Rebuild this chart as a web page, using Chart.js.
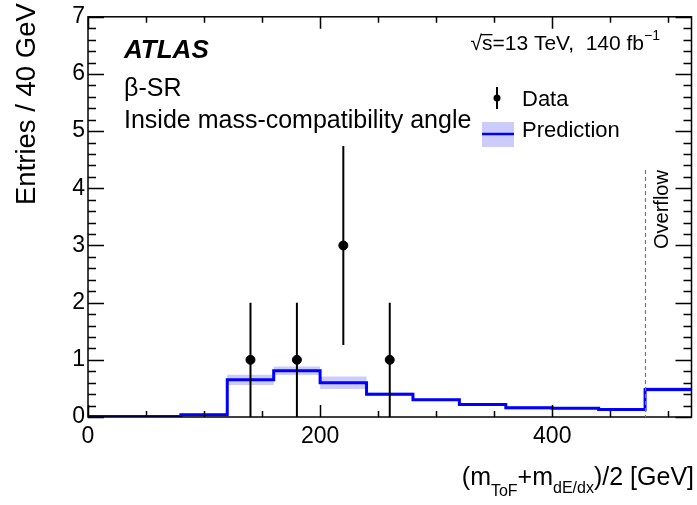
<!DOCTYPE html>
<html>
<head>
<meta charset="utf-8">
<script src="https://cdn.jsdelivr.net/npm/chart.js@4.4.1/dist/chart.umd.min.js"></script>
<style>
  html, body { margin: 0; padding: 0; background: #ffffff; }
  #plot { display: block; }
</style>
</head>
<body>
<canvas id="plot" width="697" height="505"></canvas>
<script>
// histogram binning (40 GeV bins, last bin is overflow)
var binEdges = [0, 40, 80, 120, 160, 200, 240, 280, 320, 360, 400, 440, 480, 520];
var predValues = [0.01, 0.01, 0.04, 0.65, 0.81, 0.60, 0.40, 0.30, 0.22, 0.16, 0.155, 0.13, 0.48];
var predErr = [0.01, 0.01, 0.015, 0.09, 0.075, 0.11, 0.03, 0.02, 0.025, 0.03, 0.02, 0.012, 0.04];

// observed data
var dataX = [140, 180, 220, 260];
var dataY = [1, 1, 3, 1];
var dataErrLo = [1, 1, 1.74, 1];
var dataErrHi = [1, 1, 1.74, 1];

var xTicks = [0, 200, 400];
var yTicks = [0, 1, 2, 3, 4, 5, 6, 7];
var overflowEdge = 480;

var FONT = '"Liberation Sans", Arial, Helvetica, sans-serif';
var bandColor = 'rgb(204, 204, 250)';

function stepPoints(vals) {
    var pts = [];
    for (var i = 0; i < binEdges.length; i++) {
        var v = i < vals.length ? vals[i] : vals[vals.length - 1];
        pts.push({ x: binEdges[i], y: v });
    }
    return pts;
}

var upper = stepPoints(predValues.map(function (v, i) { return v + predErr[i]; }));
var lower = stepPoints(predValues.map(function (v, i) { return Math.max(0, v - predErr[i]); }));
var nominal = stepPoints(predValues);

var errBars = [];
dataX.forEach(function (x, i) {
    errBars.push({ x: x, y: dataY[i] - dataErrLo[i] });
    errBars.push({ x: x, y: dataY[i] + dataErrHi[i] });
    errBars.push({ x: x, y: null });
});
var dataPts = dataX.map(function (x, i) { return { x: x, y: dataY[i] }; });

// ROOT style frame, inward ticks, labels and legend
var atlasDecor = {
    id: 'atlasDecor',
    afterDatasetsDraw: function (chart) {
        var ctx = chart.ctx, a = chart.chartArea;
        var xs = chart.scales.x, ys = chart.scales.y;
        ctx.save();
        ctx.strokeStyle = '#000';
        ctx.lineWidth = 1.5;
        ctx.beginPath();
        // y ticks, left and right
        for (var k = 0; k <= 35; k++) {
            var v = k * 0.2;
            var py = Math.round(ys.getPixelForValue(v)) + 0.5;
            var len = (k % 5 === 0) ? 16 : 8;
            ctx.moveTo(a.left, py); ctx.lineTo(a.left + len, py);
            ctx.moveTo(a.right, py); ctx.lineTo(a.right - len, py);
        }
        // x ticks, bottom and top
        for (var x = 0; x <= 520; x += 50) {
            var px = Math.round(xs.getPixelForValue(x)) + 0.5;
            var l2 = (x % 200 === 0) ? 12 : 6;
            ctx.moveTo(px, a.bottom); ctx.lineTo(px, a.bottom - l2);
            ctx.moveTo(px, a.top); ctx.lineTo(px, a.top + l2);
        }
        ctx.stroke();
        ctx.strokeRect(a.left, a.top, a.right - a.left, a.bottom - a.top);

        // overflow marker
        var ox = Math.round(xs.getPixelForValue(overflowEdge)) + 0.5;
        ctx.strokeStyle = '#777';
        ctx.lineWidth = 1.2;
        ctx.setLineDash([4, 3]);
        ctx.beginPath();
        ctx.moveTo(ox, 170); ctx.lineTo(ox, a.bottom);
        ctx.stroke();
        ctx.setLineDash([]);
        ctx.restore();
    },
    afterDraw: function (chart) {
        var ctx = chart.ctx;
        ctx.save();
        ctx.fillStyle = '#000';
        ctx.textBaseline = 'alphabetic';
        ctx.textAlign = 'left';

        ctx.font = 'italic bold 26px ' + FONT;
        ctx.fillText('ATLAS', 124, 58);
        ctx.font = '25px ' + FONT;
        ctx.fillText('\u03b2-SR', 124, 96);
        ctx.fillText('Inside mass-compatibility angle', 124, 128);

        // sqrt(s) and luminosity, right aligned
        var main = '\u221As=13 TeV,  140 fb';
        ctx.font = '21px ' + FONT;
        var wMain = ctx.measureText(main).width;
        ctx.font = '14px ' + FONT;
        var wSup = ctx.measureText('\u22121').width;
        var x0 = 660 - wMain - wSup;
        ctx.font = '21px ' + FONT;
        ctx.fillText(main, x0, 50);
        var wRoot = ctx.measureText('\u221A').width;
        var wS = ctx.measureText('s').width;
        ctx.fillRect(x0 + wRoot - 1, 34, wS + 1, 1.3);
        ctx.font = '14px ' + FONT;
        ctx.fillText('\u22121', x0 + wMain, 40);

        // legend
        ctx.strokeStyle = '#000';
        ctx.lineWidth = 2;
        ctx.beginPath();
        ctx.moveTo(497, 87); ctx.lineTo(497, 109);
        ctx.stroke();
        ctx.beginPath();
        ctx.arc(497, 98, 3.5, 0, Math.PI * 2);
        ctx.fill();
        ctx.fillStyle = bandColor;
        ctx.fillRect(482, 122, 32, 25);
        ctx.strokeStyle = '#0000ff';
        ctx.lineWidth = 2.5;
        ctx.beginPath();
        ctx.moveTo(482, 134); ctx.lineTo(514, 134);
        ctx.stroke();
        ctx.fillStyle = '#000';
        ctx.font = '22px ' + FONT;
        ctx.fillText('Data', 522, 106);
        ctx.fillText('Prediction', 522, 137);

        // overflow label
        ctx.save();
        ctx.translate(668, 249);
        ctx.rotate(-Math.PI / 2);
        ctx.font = '20px ' + FONT;
        ctx.fillText('Overflow', 0, 0);
        ctx.restore();

        // y title
        ctx.save();
        ctx.translate(35, 205);
        ctx.rotate(-Math.PI / 2);
        ctx.font = '27.5px ' + FONT;
        ctx.fillText('Entries / 40 GeV', 0, 0);
        ctx.restore();

        // x title with subscripts, right aligned to the frame
        var parts = [
            ['(m', 25, 0], ['ToF', 16, 11], ['+m', 25, 0], ['dE/dx', 16, 8], [')/2 [GeV]', 25, 0]
        ];
        var total = 0;
        parts.forEach(function (p) { ctx.font = p[1] + 'px ' + FONT; total += ctx.measureText(p[0]).width; });
        var cx = 694 - total;
        parts.forEach(function (p) {
            ctx.font = p[1] + 'px ' + FONT;
            ctx.fillText(p[0], cx, 485 + p[2]);
            cx += ctx.measureText(p[0]).width;
        });
        ctx.restore();
    }
};

var ctx = document.getElementById('plot').getContext('2d');
var chart = new Chart(ctx, {
    type: 'line',
    data: {
        datasets: [
            { label: 'Data', type: 'scatter', data: dataPts, order: 1,
              pointRadius: 4.5, pointBackgroundColor: '#000', pointBorderColor: '#000', showLine: false },
            { label: 'Data err', data: errBars, order: 2, borderColor: '#000', borderWidth: 2,
              pointRadius: 0, spanGaps: false, fill: false },
            { label: 'Prediction', data: nominal, order: 3, stepped: 'before', borderColor: '#0000ff',
              borderWidth: 3, pointRadius: 0, fill: false },
            { label: 'band up', data: upper, order: 4, stepped: 'before', borderWidth: 0,
              borderColor: 'rgba(0,0,0,0)', backgroundColor: bandColor, pointRadius: 0, fill: '+1' },
            { label: 'band down', data: lower, order: 5, stepped: 'before', borderWidth: 0,
              borderColor: 'rgba(0,0,0,0)', pointRadius: 0, fill: false }
        ]
    },
    options: {
        responsive: false,
        animation: false,
        devicePixelRatio: 1,
        layout: { padding: { top: 10, right: 3, left: 0, bottom: 0 } },
        plugins: { legend: { display: false }, tooltip: { enabled: false } },
        scales: {
            x: {
                type: 'linear', min: 0, max: 520,
                afterBuildTicks: function (s) { s.ticks = xTicks.map(function (v) { return { value: v }; }); },
                afterFit: function (s) { s.height = 88; },
                ticks: { color: '#000', font: { family: FONT, size: 23 }, padding: 6, maxRotation: 0, autoSkip: false },
                grid: { display: false, drawTicks: false },
                border: { display: false }
            },
            y: {
                type: 'linear', min: 0, max: 7,
                afterBuildTicks: function (s) { s.ticks = yTicks.map(function (v) { return { value: v }; }); },
                afterFit: function (s) { s.width = 88; },
                ticks: { color: '#000', font: { family: FONT, size: 23 }, padding: 3, autoSkip: false },
                grid: { display: false, drawTicks: false },
                border: { display: false }
            }
        }
    },
    plugins: [atlasDecor]
});
</script>
</body>
</html>
